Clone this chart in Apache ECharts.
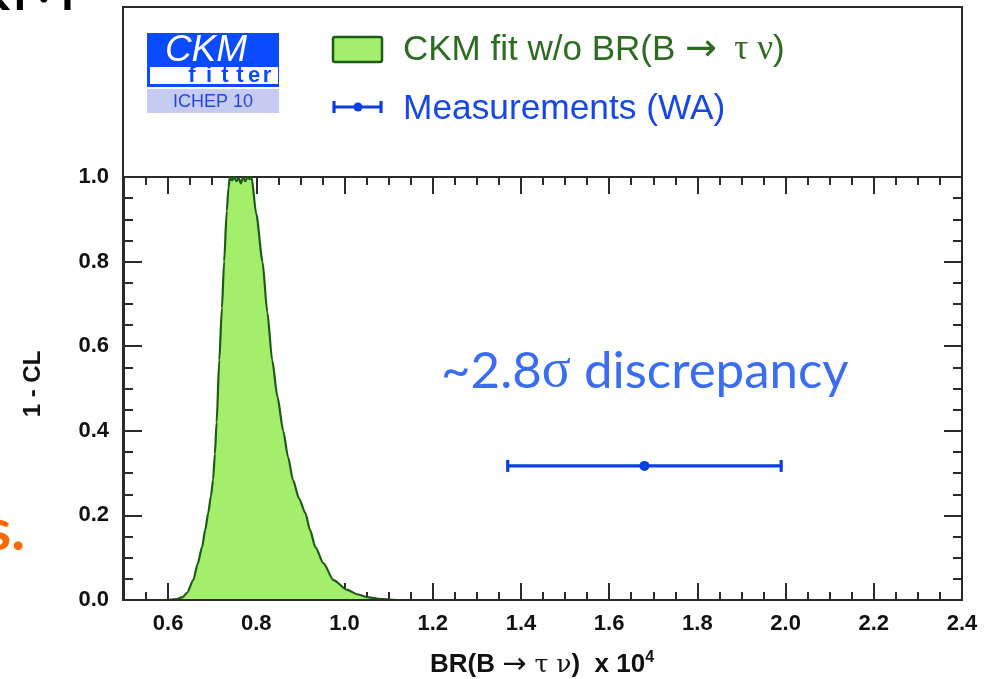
<!DOCTYPE html>
<html>
<head>
<meta charset="utf-8">
<script src="https://cdn.jsdelivr.net/npm/echarts@6/dist/echarts.min.js"></script>
<style>
  html, body { margin: 0; padding: 0; background: #ffffff; }
  #chart { width: 993px; height: 679px; }
</style>
</head>
<body>
<div id="chart"></div>
<script>
// CKM fit prediction for BR(B -> tau nu) (1 - CL profile) vs. world average
const fitBR = [0.600, 0.620, 0.633, 0.643, 0.657, 0.667, 0.677, 0.684, 0.691, 0.697, 0.702,
  0.706, 0.710, 0.716, 0.722, 0.727, 0.733, 0.737, 0.740, 0.745, 0.750, 0.755, 0.760, 0.765,
  0.770, 0.775, 0.780, 0.785, 0.789, 0.800, 0.814, 0.825, 0.836, 0.848, 0.861, 0.872, 0.883,
  0.897, 0.911, 0.922, 0.934, 0.952, 0.975, 1.006, 1.030, 1.051, 1.075, 1.100, 1.120, 1.400];
const fitCL = [0.000, 0.002, 0.007, 0.017, 0.047, 0.085, 0.125, 0.165, 0.206, 0.245, 0.284,
  0.345, 0.420, 0.567, 0.690, 0.800, 0.920, 0.975, 1.000, 0.992, 1.000, 0.990, 0.998, 0.985,
  1.000, 0.990, 1.000, 0.995, 1.000, 0.912, 0.800, 0.680, 0.567, 0.480, 0.400, 0.338, 0.284,
  0.240, 0.206, 0.165, 0.125, 0.087, 0.047, 0.024, 0.013, 0.007, 0.003, 0.001, 0.000, 0.000];

// World average measurement: central value, 1 sigma interval, plotted at 1 - CL = 0.317
const measCentral = [1.68];
const measLow = [1.37];
const measHigh = [1.99];
const measCL = [0.317];

// Axis ticks
const xMajorTicks = [0.6, 0.8, 1.0, 1.2, 1.4, 1.6, 1.8, 2.0, 2.2, 2.4];
const xMin = 0.5, xMax = 2.4, xMinorStep = 0.05;
const yMin = 0, yMax = 1, yMajorStep = 0.2, yMinorStep = 0.05;

const frameColor = '#2a2a2a';
const fitLine = '#1f5a16';
const fitFill = '#a3ef6b';
const measColor = '#0c3fe0';
const tickFont = { fontFamily: 'Liberation Sans', fontWeight: 'bold', fontSize: 22, color: '#111' };

const chart = echarts.init(document.getElementById('chart'), null, { renderer: 'canvas' });

function xAxisDef(position, major) {
  const a = {
    type: 'value', position: position, min: xMin, max: xMax, gridIndex: 0,
    axisLine: { show: major, onZero: false, lineStyle: { color: frameColor, width: 2 } },
    axisTick: { show: true, inside: true, length: major ? 17 : 8, lineStyle: { color: frameColor, width: 2 } },
    axisLabel: { show: false },
    splitLine: { show: false }
  };
  if (major) {
    a.axisTick.customValues = xMajorTicks;
    a.axisLabel = position === 'bottom'
      ? Object.assign({ show: true, customValues: xMajorTicks, margin: 13, formatter: v => v.toFixed(1) }, tickFont)
      : { show: false, customValues: xMajorTicks };
  } else {
    a.interval = xMinorStep;
  }
  return a;
}

function yAxisDef(position, major) {
  const a = {
    type: 'value', position: position, min: yMin, max: yMax, gridIndex: 0,
    interval: major ? yMajorStep : yMinorStep,
    axisLine: { show: major, onZero: false, lineStyle: { color: frameColor, width: 2 } },
    axisTick: { show: true, inside: true, length: major ? 18 : 9, lineStyle: { color: frameColor, width: 2 } },
    axisLabel: { show: false },
    splitLine: { show: false }
  };
  if (major && position === 'left') {
    a.axisLabel = Object.assign({ show: true, margin: 15, formatter: v => v.toFixed(1) }, tickFont);
  }
  return a;
}

const option = {
  animation: false,
  backgroundColor: '#ffffff',
  grid: { left: 124, right: 31, top: 177, bottom: 79, containLabel: false },
  xAxis: [xAxisDef('bottom', true), xAxisDef('bottom', false), xAxisDef('top', true), xAxisDef('top', false)],
  yAxis: [yAxisDef('left', true), yAxisDef('left', false), yAxisDef('right', true), yAxisDef('right', false)],
  series: [
    {
      name: 'CKM fit w/o BR(B → τ ν)',
      type: 'line',
      xAxisIndex: 0, yAxisIndex: 0,
      data: fitBR.map((x, i) => [x, fitCL[i]]),
      showSymbol: false,
      smooth: 0.25,
      smoothMonotone: 'x',
      lineStyle: { color: fitLine, width: 2.2 },
      areaStyle: { color: fitFill, opacity: 1 },
      z: 2
    },
    {
      name: 'Measurements (WA)',
      type: 'custom',
      xAxisIndex: 0, yAxisIndex: 0,
      data: measCentral.map((c, i) => [c, measLow[i], measHigh[i], measCL[i]]),
      renderItem: function (params, api) {
        const pc = api.coord([api.value(0), api.value(3)]);
        const pl = api.coord([api.value(1), api.value(3)]);
        const ph = api.coord([api.value(2), api.value(3)]);
        const cap = 6;
        const st = { stroke: measColor, lineWidth: 3.2 };
        return {
          type: 'group',
          children: [
            { type: 'line', shape: { x1: pl[0], y1: pl[1], x2: ph[0], y2: ph[1] }, style: st },
            { type: 'line', shape: { x1: pl[0], y1: pl[1] - cap, x2: pl[0], y2: pl[1] + cap }, style: st },
            { type: 'line', shape: { x1: ph[0], y1: ph[1] - cap, x2: ph[0], y2: ph[1] + cap }, style: st },
            { type: 'circle', shape: { cx: pc[0], cy: pc[1], r: 5 }, style: { fill: measColor } }
          ]
        };
      },
      z: 5
    }
  ],
  graphic: [
    // outer frame enclosing the legend panel and the plot
    { type: 'rect', shape: { x: 123, y: 7, width: 839, height: 593 },
      style: { fill: null, stroke: frameColor, lineWidth: 2 }, z: 10 },

    // CKMfitter logo
    { type: 'rect', shape: { x: 147, y: 33, width: 132, height: 54 }, style: { fill: '#0b4bff' }, z: 10 },
    { type: 'rect', shape: { x: 150, y: 67, width: 128, height: 17 }, style: { fill: '#ffffff' }, z: 11 },
    { type: 'text', x: 206, y: 51, z: 12,
      style: { text: 'CKM', fill: '#ffffff', font: 'italic 37px "Liberation Sans"', align: 'center', verticalAlign: 'middle' } },
    ...['f', 'i', 't', 't', 'e', 'r'].map((ch, i) => ({
      type: 'text', x: [192, 209, 225, 240, 254, 267][i], y: 76, z: 12,
      style: { text: ch, fill: '#0b4bff', font: 'bold 22px "Liberation Sans"', align: 'center', verticalAlign: 'middle' }
    })),
    { type: 'rect', shape: { x: 147, y: 89, width: 132, height: 24 }, style: { fill: '#c6cbf1' }, z: 10 },
    { type: 'text', x: 213, y: 102, z: 12,
      style: { text: 'ICHEP 10', fill: '#2447e0', font: '18px "Liberation Sans"', align: 'center', verticalAlign: 'middle' } },

    // legend: fit band
    { type: 'rect', shape: { x: 333, y: 37, width: 49, height: 25, r: 2 },
      style: { fill: fitFill, stroke: fitLine, lineWidth: 2.5 }, z: 10 },
    { type: 'text', x: 403, y: 50, z: 10,
      style: {
        text: '{a|CKM fit w/o BR(B }{r|→}{s|  τ ν}{a|)}',
        verticalAlign: 'middle',
        rich: {
          a: { fontFamily: 'Liberation Sans', fontSize: 35, fill: '#2d6b21' },
          r: { fontFamily: 'DejaVu Sans', fontSize: 38, fill: '#2d6b21' },
          s: { fontFamily: 'Liberation Serif', fontSize: 35, fill: '#2d6b21' }
        }
      } },
    // legend: measurement
    { type: 'line', shape: { x1: 334, y1: 107, x2: 381, y2: 107 }, style: { stroke: measColor, lineWidth: 3.2 }, z: 10 },
    { type: 'line', shape: { x1: 334, y1: 101, x2: 334, y2: 113 }, style: { stroke: measColor, lineWidth: 3.2 }, z: 10 },
    { type: 'line', shape: { x1: 381, y1: 101, x2: 381, y2: 113 }, style: { stroke: measColor, lineWidth: 3.2 }, z: 10 },
    { type: 'circle', shape: { cx: 358, cy: 107, r: 4.5 }, style: { fill: measColor }, z: 10 },
    { type: 'text', x: 403, y: 109, z: 10,
      style: { text: 'Measurements (WA)', fill: '#1747e6', font: '35.3px "Liberation Sans"', verticalAlign: 'middle' } },

    // axis titles
    { type: 'text', x: 33, y: 384, rotation: Math.PI / 2, z: 10,
      style: { text: '1 - CL', fill: '#111', font: 'bold 24px "Liberation Sans"', align: 'center', verticalAlign: 'middle' } },
    { type: 'text', x: 430, y: 665, z: 10,
      style: {
        text: '{b|BR(B }{r|→}{s| τ ν}{b|)  x 10}{p|4}',
        verticalAlign: 'middle',
        rich: {
          b: { fontFamily: 'Liberation Sans', fontWeight: 'bold', fontSize: 26, fill: '#111' },
          r: { fontFamily: 'DejaVu Sans', fontSize: 29, fill: '#111' },
          s: { fontFamily: 'DejaVu Serif', fontSize: 25, fill: '#111' },
          p: { fontFamily: 'Liberation Sans', fontWeight: 'bold', fontSize: 16, fill: '#111', verticalAlign: 'top', padding: [0, 0, 14, 0] }
        }
      } },

    // annotation
    { type: 'text', x: 441, y: 372, z: 10,
      style: {
        text: '{t|~2.8}{g|σ}{t| discrepancy}',
        verticalAlign: 'middle',
        rich: {
          t: { fontFamily: 'Lato', fontSize: 51, fill: '#3a6cf4' },
          g: { fontFamily: 'Liberation Serif', fontSize: 54, fill: '#3a6cf4' }
        }
      } },

    // slide text fragments around the figure
    { type: 'text', x: 77, y: 23, z: 10,
      style: { text: 'KM', fill: '#000', font: '72px "Lato"', align: 'right', verticalAlign: 'bottom' } },
    { type: 'text', x: 25, y: 560, z: 10,
      style: { text: 's.', fill: '#ff6a00', font: 'bold 58px "Lato"', align: 'right', verticalAlign: 'bottom' } }
  ]
};

chart.setOption(option);
</script>
</body>
</html>
